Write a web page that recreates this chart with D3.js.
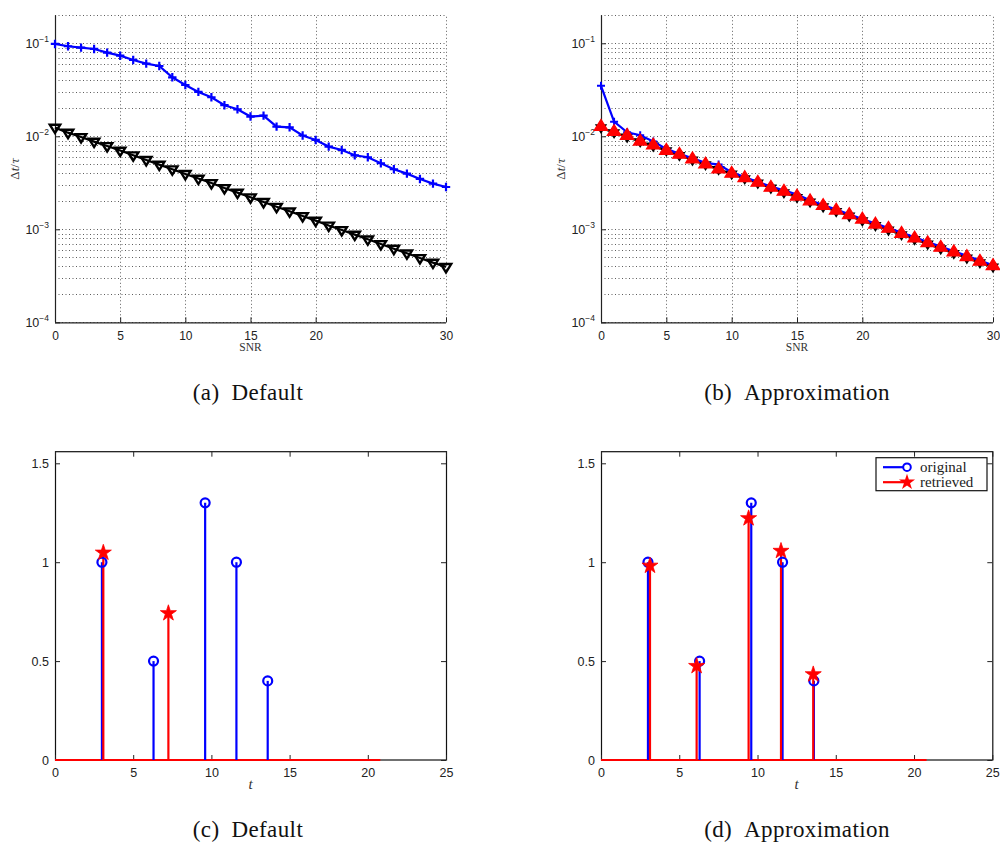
<!DOCTYPE html>
<html><head><meta charset="utf-8">
<script src="https://cdn.jsdelivr.net/npm/d3@7"></script>
<style>body{margin:0;background:#fff}svg{display:block}</style>
</head><body>
<script>
// ---------------- DATA ----------------
const snr = [0,1,2,3,4,5,6,7,8,9,10,11,12,13,14,15,16,17,18,19,20,21,22,23,24,25,26,27,28,29,30];
const defaultErr = [0.0984,0.0929,0.0898,0.0869,0.0794,0.0736,0.0662,0.0604,0.0570,0.0431,0.0356,0.0300,0.0263,0.0216,0.0195,0.0163,0.0167,0.0127,0.0125,0.0102,0.00914,0.00775,0.00713,0.00625,0.00595,0.00513,0.00442,0.00397,0.00348,0.00310,0.00285];
const crbErr = [0.01240,0.01094,0.00983,0.00877,0.00787,0.00702,0.00625,0.00557,0.00496,0.00442,0.00394,0.00351,0.00315,0.00278,0.00248,0.00221,0.00197,0.00175,0.00156,0.00139,0.00124,0.00110,0.000984,0.000877,0.000780,0.000695,0.000619,0.000552,0.000492,0.000438,0.000394];
const approxErr = [0.0349,0.01436,0.01103,0.01025,0.00877,0.00732,0.00647,0.00581,0.00518,0.00496,0.00411,0.00364,0.00322,0.00289,0.00262,0.00237,0.00205,0.00182,0.00163,0.00145,0.00129,0.00115,0.00103,0.000921,0.000820,0.000731,0.000652,0.000581,0.000518,0.000462,0.000411];
const approxCrb = [0.01271,0.01122,0.01017,0.00883,0.00801,0.00702,0.00637,0.00568,0.00501,0.00443,0.00398,0.00358,0.00319,0.00282,0.00255,0.00226,0.00201,0.00179,0.00160,0.00143,0.00128,0.00113,0.00102,0.000899,0.000801,0.000714,0.000637,0.000568,0.000506,0.000451,0.000405];
const snrTicks = [0,5,10,15,20,30];
const logTicks = [1e-4,1e-3,1e-2,1e-1];
const logTickLabels = ["\u22124","\u22123","\u22122","\u22121"];

const origT = [3.0,6.3,9.6,11.6,13.6];
const origA = [1.0,0.5,1.3,1.0,0.4];
const retDefT = [3.09,7.25];
const retDefA = [1.048,0.742];
const retAppT = [3.13,6.11,9.43,11.5,13.56];
const retAppA = [0.982,0.475,1.222,1.057,0.433];
const tTicks = [0,5,10,15,20,25];
const ampTicks = [0,0.5,1,1.5];
const ampTickLabels = ["0","0.5","1","1.5"];
const baselineEnd = 20.8;
const captions = ["(a)\u2002Default","(b)\u2002Approximation","(c)\u2002Default","(d)\u2002Approximation"];
const legendLabels = ["original","retrieved"];

// ---------------- DRAW ----------------
const W=1000,H=845;
const svg=d3.select("body").append("svg").attr("width",W).attr("height",H);
const SANS="'Liberation Sans', Arial, sans-serif";
const SERIF="'Liberation Serif','Times New Roman',serif";
const BLUE="#0000ff", RED="#ff0000";

function plusPath(s){return `M${-s},0H${s}M0,${-s}V${s}`;}
function triDown(s){return `M${-s},${-s*0.55}L${s},${-s*0.55}L0,${s*1.05}Z`;}
function triUp(s){return `M${-s},${s*0.55}L${s},${s*0.55}L0,${-s*1.05}Z`;}

function topPanel(x0,x1,series){
  const yTop=15.3, yBot=322.3;
  const x=d3.scaleLinear().domain([0,30]).range([x0,x1]);
  const y=d3.scaleLog().domain([1e-4,0.2]).range([yBot,yTop]);
  const g=svg.append("g");
  const gridVals=[];
  [1e-4,1e-3,1e-2,1e-1].forEach(d=>{for(let k=1;k<=9;k++){const v=d*k; if(v<=0.2) gridVals.push(v);}});
  g.selectAll(".hg").data(gridVals).enter().append("line")
   .attr("x1",x0).attr("x2",x1).attr("y1",d=>Math.round(y(d))+0.5).attr("y2",d=>Math.round(y(d))+0.5)
   .attr("stroke","#333").attr("stroke-width",0.8).attr("stroke-dasharray","1,2.5");
  g.selectAll(".vg").data(snrTicks.filter(d=>d>0)).enter().append("line")
   .attr("x1",d=>Math.round(x(d))+0.5).attr("x2",d=>Math.round(x(d))+0.5).attr("y1",yBot).attr("y2",yTop)
   .attr("stroke","#333").attr("stroke-width",0.8).attr("stroke-dasharray","1,2.5");
  const xa=d3.axisBottom(x).tickValues(snrTicks).tickSize(-5).tickPadding(9).tickFormat(d3.format("d"));
  const xg=g.append("g").attr("transform",`translate(0,${yBot})`).call(xa);
  xg.select(".domain").attr("d",`M${x0},0.5H${x1}`);
  const ya=d3.axisLeft(y).tickValues(logTicks).tickSize(-5).tickPadding(6).tickFormat("");
  const yg=g.append("g").attr("transform",`translate(${x0},0)`).call(ya);
  yg.select(".domain").attr("d",`M0.5,${yTop}V${yBot}`);
  [xg,yg].forEach(a=>{a.selectAll("text").attr("font-family",SANS).attr("font-size",12).attr("fill","#222");
     a.select(".domain").attr("stroke","#222").attr("stroke-width",1.2);a.selectAll(".tick line").attr("stroke","#222");});
  logTicks.forEach((v,i)=>{
    const t=g.append("text").attr("x",x0-6).attr("y",y(v)+5).attr("text-anchor","end")
      .attr("font-family",SANS).attr("font-size",12.5).attr("fill","#222");
    t.append("tspan").text("10");
    t.append("tspan").attr("font-size",8.5).attr("dy",-6).text(logTickLabels[i]);
  });
  g.append("text").attr("x",(x0+x1)/2).attr("y",yBot+29).attr("text-anchor","middle")
   .attr("font-family",SERIF).attr("font-size",11.5).attr("fill","#333").text("SNR");
  const yl=g.append("text").attr("transform",`translate(${x0-36},${(yTop+yBot)/2}) rotate(-90)`)
   .attr("text-anchor","middle").attr("font-family",SERIF).attr("font-size",13).attr("fill","#333");
  yl.append("tspan").text("\u0394");
  yl.append("tspan").attr("font-style","italic").text("t");
  yl.append("tspan").text("/");
  yl.append("tspan").attr("font-family","'DejaVu Serif',serif").attr("font-style","italic").attr("font-size",11).text("\u03c4");
  series.forEach(s=>{
    const pts=snr.map((d,i)=>[x(d),y(s.vals[i])]);
    if(s.line) g.append("path").attr("d",d3.line()(pts)).attr("fill","none").attr("stroke",s.color).attr("stroke-width",2.2);
    g.selectAll(null).data(pts).enter().append("path")
      .attr("transform",d=>`translate(${d[0]},${d[1]})`).attr("d",s.path)
      .attr("fill",s.fill).attr("stroke",s.color).attr("stroke-width",s.sw).attr("stroke-linejoin","miter");
  });
}

topPanel(55,446,[
  {vals:crbErr,color:"#000",fill:"none",path:triDown(5.2),sw:2.4,line:true},
  {vals:defaultErr,color:BLUE,fill:"none",path:plusPath(4.2),sw:2.2,line:true}
]);
topPanel(601,993,[
  {vals:crbErr,color:"#000",fill:"#000",path:triDown(4.8),sw:1.5,line:true},
  {vals:approxErr,color:BLUE,fill:"none",path:plusPath(4),sw:2,line:true},
  {vals:approxCrb,color:RED,fill:RED,path:triUp(6.8),sw:1.2,line:false}
]);

function bottomPanel(x0,x1,retT,retA,legend){
  const yTop=451.7,yBot=760;
  const x=d3.scaleLinear().domain([0,25]).range([x0,x1]);
  const y=d3.scaleLinear().domain([0,1.5587]).range([yBot,yTop]);
  const g=svg.append("g");
  g.append("rect").attr("x",x0+0.5).attr("y",yTop).attr("width",x1-x0).attr("height",yBot-yTop)
   .attr("fill","none").attr("stroke","#111").attr("stroke-width",1.2);
  const xa=d3.axisBottom(x).tickValues(tTicks).tickSize(-5).tickPadding(8);
  const xg=g.append("g").attr("transform",`translate(0,${yBot})`).call(xa);
  const ya=d3.axisLeft(y).tickValues(ampTicks).tickSize(-5).tickPadding(6).tickFormat((d,i)=>ampTickLabels[i]);
  const yg=g.append("g").attr("transform",`translate(${x0},0)`).call(ya);
  const xt=g.append("g").attr("transform",`translate(0,${yTop})`).call(d3.axisTop(x).tickValues(tTicks).tickSize(-5).tickFormat(""));
  const yr=g.append("g").attr("transform",`translate(${x1},0)`).call(d3.axisRight(y).tickValues(ampTicks).tickSize(-5).tickFormat(""));
  [xg,yg,xt,yr].forEach(a=>{a.select(".domain").remove();a.selectAll("text").attr("font-family",SANS).attr("font-size",12.5).attr("fill","#222");a.selectAll(".tick line").attr("stroke","#222");});
  g.append("text").attr("x",(x0+x1)/2).attr("y",yBot+29).attr("text-anchor","middle")
   .attr("font-family",SERIF).attr("font-style","italic").attr("font-size",15).attr("fill","#333").text("t");
  g.append("line").attr("x1",x(0)).attr("x2",x(baselineEnd)).attr("y1",y(0)).attr("y2",y(0)).attr("stroke",RED).attr("stroke-width",2);
  origT.forEach((t,i)=>{
    g.append("line").attr("x1",x(t)).attr("x2",x(t)).attr("y1",y(0)).attr("y2",y(origA[i])).attr("stroke",BLUE).attr("stroke-width",2.2);
  });
  retT.forEach((t,i)=>{
    g.append("line").attr("x1",x(t)).attr("x2",x(t)).attr("y1",y(0)).attr("y2",y(retA[i])).attr("stroke",RED).attr("stroke-width",2.2);
  });
  origT.forEach((t,i)=>{
    g.append("circle").attr("cx",x(t)).attr("cy",y(origA[i])).attr("r",4.5).attr("fill","none").attr("stroke",BLUE).attr("stroke-width",2.2);
  });
  const star=d3.symbol().type(d3.symbolStar).size(80);
  retT.forEach((t,i)=>{
    g.append("path").attr("transform",`translate(${x(t)},${y(retA[i])})`).attr("d",star()).attr("fill",RED).attr("stroke",RED).attr("stroke-width",0.8);
  });
  if(legend){
    const lx=876,ly=457.7,lw=111,lh=33;
    g.append("rect").attr("x",lx).attr("y",ly).attr("width",lw).attr("height",lh).attr("fill","#fff").attr("stroke","#111").attr("stroke-width",1.2);
    const rows=[{c:BLUE,yy:ly+9.5,m:"o"},{c:RED,yy:ly+24.5,m:"s"}];
    rows.forEach((r,i)=>{
      g.append("line").attr("x1",lx+7).attr("x2",lx+31).attr("y1",r.yy).attr("y2",r.yy).attr("stroke",r.c).attr("stroke-width",2.2);
      if(r.m==="o") g.append("circle").attr("cx",lx+31).attr("cy",r.yy).attr("r",3.8).attr("fill","#fff").attr("stroke",r.c).attr("stroke-width",2);
      else g.append("path").attr("transform",`translate(${lx+31},${r.yy})`).attr("d",star()).attr("fill",r.c);
      g.append("text").attr("x",lx+44).attr("y",r.yy+4.5).attr("font-family",SERIF).attr("font-size",15).attr("fill","#222").text(legendLabels[i]);
    });
  }
}
bottomPanel(55,446,retDefT,retDefA,false);
bottomPanel(601,992.3,retAppT,retAppA,true);

[[248,400,0],[797,400,1],[248,837,2],[797,837,3]].forEach(c=>{
  svg.append("text").attr("x",c[0]).attr("y",c[1]).attr("text-anchor","middle")
   .attr("font-family",SERIF).attr("font-size",23).attr("letter-spacing",0.4).attr("fill","#111").text(captions[c[2]]);
});
</script>
</body></html>
